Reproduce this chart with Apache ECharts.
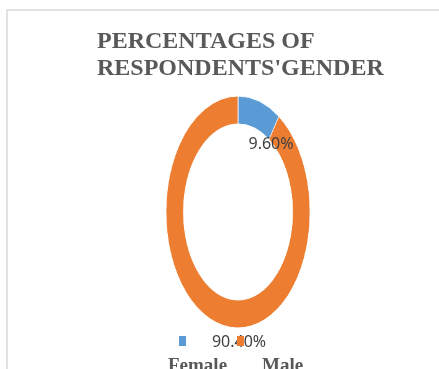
<!DOCTYPE html>
<html>
<head>
<meta charset="utf-8">
<script src="https://cdn.jsdelivr.net/npm/echarts@6/dist/echarts.min.js"></script>
<style>
  html, body { margin: 0; padding: 0; background: #fff; }
  #wrap { position: relative; width: 439px; height: 369px; overflow: hidden; }
  #ring, #overlay { position: absolute; left: 0; top: 0; width: 439px; height: 369px; }
  /* the doughnut is stretched into an upright ellipse */
  #ring { transform: scaleX(0.6207); transform-origin: 238px 0; }
</style>
</head>
<body>
<div id="wrap">
  <div id="ring"></div>
  <div id="overlay"></div>
</div>
<script>
const categories = ['Female', 'Male'];
const percentages = [9.6, 90.4];
const titleLines = ['PERCENTAGES OF', "RESPONDENTS'GENDER"];
const palette = ['#5B9BD5', '#ED7D31'];

const pieData = categories.map((name, i) => ({ name, value: percentages[i] }));

// ring layer: the doughnut itself
const ring = echarts.init(document.getElementById('ring'), null, { renderer: 'canvas' });
ring.setOption({
  backgroundColor: 'transparent',
  color: palette,
  animation: false,
  series: [{
    type: 'pie',
    center: [238, 212],
    radius: [88, 116],
    startAngle: 90,
    clockwise: true,
    label: { show: false },
    labelLine: { show: false },
    itemStyle: { borderColor: '#ffffff', borderWidth: 1 },
    data: pieData
  }]
});

// overlay layer: frame, title, value labels and legend
const labelSpots = [[271, 144], [239, 342]];
const overlay = echarts.init(document.getElementById('overlay'), null, { renderer: 'canvas' });
overlay.setOption({
  backgroundColor: 'transparent',
  color: palette,
  animation: false,
  graphic: [{
    type: 'rect',
    shape: { x: 7, y: 10, width: 600, height: 600 },
    style: { fill: 'none', stroke: '#d9d9d9', lineWidth: 1.5 },
    silent: true
  }],
  title: {
    text: titleLines.join('\n'),
    left: 97,
    top: 28,
    padding: 0,
    textStyle: {
      fontFamily: 'Liberation Serif',
      fontWeight: 'bold',
      fontSize: 24,
      lineHeight: 27,
      color: '#595959'
    }
  },
  legend: [{
    data: categories,
    left: 179,
    top: 336,
    padding: 0,
    icon: 'rect',
    itemWidth: 7,
    itemHeight: 10,
    itemGap: 51,
    formatter: () => '',
    textStyle: { fontSize: 10 },
    selectedMode: false
  }, {
    data: categories,
    left: 163,
    top: 357,
    padding: 0,
    icon: 'none',
    itemWidth: 0,
    itemHeight: 0,
    itemGap: 30,
    selectedMode: false,
    textStyle: {
      fontFamily: 'Liberation Serif',
      fontWeight: 'bold',
      fontSize: 19,
      color: '#595959'
    }
  }],
  series: [{
    type: 'pie',
    center: [238, 212],
    radius: [0, 0],
    startAngle: 90,
    silent: true,
    z: 1,
    label: {
      show: true,
      position: 'inside',
      formatter: p => p.value.toFixed(2) + '%',
      fontFamily: 'Noto Sans',
      fontSize: 16,
      color: '#404040'
    },
    labelLine: { show: false },
    labelLayout: p => ({
      x: labelSpots[p.dataIndex][0],
      y: labelSpots[p.dataIndex][1],
      align: 'center',
      verticalAlign: 'middle'
    }),
    data: pieData
  }]
});
</script>
</body>
</html>
